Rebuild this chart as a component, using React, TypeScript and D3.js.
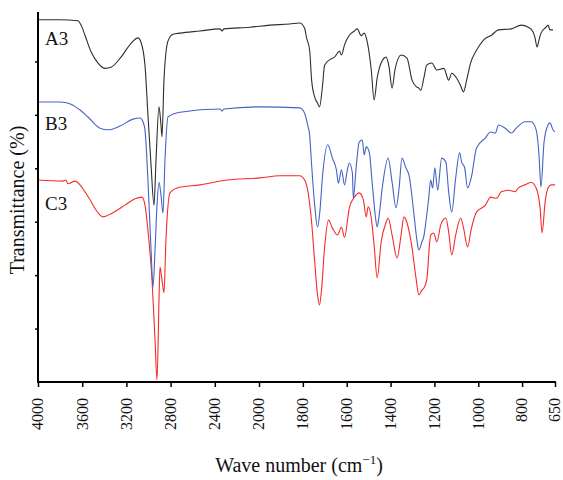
import React, { useEffect, useRef } from 'react';
import * as d3 from 'd3';

// FTIR spectra, wavenumber (cm-1) vs transmittance (arbitrary, offset traces)
const xTicks = [4000, 3600, 3200, 2800, 2400, 2000, 1800, 1600, 1400, 1200, 1000, 800, 650];
const yTicks = [10, 20, 30, 40, 50, 60];

const seriesA3: [number, number][] = [
  [4000, 67.8], [3801, 67.8], [3638, 67.6], [3611, 66.8], [3575, 64.9], [3520, 61.8], [3457, 59.7],
  [3394, 58.7], [3339, 58.9], [3249, 60.8], [3158, 63.4], [3095, 64.4], [3068, 63.6], [3032, 59.3],
  [3005, 50.0], [2977, 40.6], [2950, 33.1], [2932, 41.5], [2905, 51.5], [2887, 48.1], [2878, 45.9],
  [2860, 56.5], [2824, 63.8], [2778, 65.1], [2715, 65.3], [2534, 65.7], [2353, 66.1], [2335, 65.7],
  [2317, 66.1], [2081, 66.4], [1950, 66.8], [1860, 67.0], [1814, 67.2], [1792, 66.2], [1783, 64.4],
  [1769, 62.1], [1760, 56.5], [1746, 53.3], [1733, 52.2], [1724, 51.5], [1710, 55.6], [1701, 59.3],
  [1678, 60.3], [1656, 60.8], [1633, 61.9], [1624, 61.2], [1610, 63.1], [1588, 64.9], [1565, 65.7],
  [1552, 66.1], [1534, 64.8], [1520, 65.3], [1506, 63.6], [1488, 58.4], [1475, 52.8], [1461, 56.9],
  [1443, 59.7], [1420, 60.8], [1407, 59.0], [1393, 55.0], [1380, 58.4], [1352, 61.2], [1325, 60.6],
  [1302, 56.5], [1280, 55.2], [1271, 55.0], [1262, 54.6], [1248, 56.9], [1235, 59.3], [1212, 59.7],
  [1189, 58.4], [1157, 58.7], [1135, 56.5], [1121, 57.8], [1099, 56.9], [1080, 55.4], [1067, 54.3],
  [1053, 56.5], [1035, 59.7], [1008, 62.1], [976, 64.0], [940, 64.9], [908, 65.9], [849, 66.1],
  [804, 66.8], [772, 66.4], [750, 65.5], [741, 64.4], [732, 62.7], [723, 64.0], [714, 65.3],
  [691, 66.4], [682, 66.8], [673, 65.9], [659, 65.9],
];

const seriesB3: [number, number][] = [
  [4000, 52.4], [3801, 52.4], [3701, 52.0], [3620, 50.9], [3548, 49.6], [3439, 47.5], [3367, 47.2],
  [3258, 47.9], [3140, 49.2], [3077, 49.4], [3050, 48.7], [3032, 47.2], [3005, 37.8], [2977, 24.7],
  [2959, 17.8], [2941, 24.7], [2923, 33.1], [2905, 37.4], [2887, 35.0], [2869, 31.6], [2851, 41.5],
  [2824, 49.6], [2715, 50.5], [2353, 51.1], [2335, 50.7], [2317, 51.1], [1995, 51.5], [1814, 51.3],
  [1792, 50.3], [1778, 48.1], [1769, 46.2], [1760, 40.6], [1746, 33.1], [1733, 29.0], [1724, 31.2],
  [1710, 38.7], [1687, 44.4], [1665, 41.9], [1647, 39.7], [1638, 37.2], [1624, 39.7], [1610, 36.9],
  [1597, 39.7], [1588, 41.0], [1574, 39.1], [1570, 34.4], [1556, 40.6], [1543, 44.9], [1529, 45.3],
  [1520, 42.5], [1511, 44.0], [1497, 43.0], [1484, 37.4], [1470, 31.3], [1461, 29.0], [1452, 31.2],
  [1438, 36.3], [1411, 41.9], [1393, 37.4], [1375, 32.6], [1361, 36.3], [1348, 41.9], [1330, 40.1],
  [1316, 38.7], [1293, 31.3], [1280, 26.6], [1271, 24.7], [1257, 26.2], [1248, 27.3], [1239, 29.9],
  [1226, 34.4], [1217, 37.8], [1208, 36.3], [1198, 40.1], [1185, 35.9], [1167, 41.9], [1148, 41.2],
  [1135, 35.6], [1121, 31.8], [1103, 38.2], [1085, 42.9], [1076, 41.2], [1062, 40.1], [1049, 36.3],
  [1031, 38.4], [1008, 43.8], [967, 45.7], [944, 46.8], [922, 46.6], [908, 48.1], [877, 47.5],
  [849, 46.6], [827, 47.5], [786, 48.7], [759, 48.7], [736, 47.2], [723, 42.5], [714, 36.5],
  [700, 44.9], [682, 48.1], [673, 48.5], [659, 47.2], [650, 46.8],
];

const seriesC3: [number, number][] = [
  [4000, 37.8], [3774, 37.6], [3747, 37.8], [3729, 37.1], [3665, 37.6], [3620, 36.9], [3575, 35.6],
  [3529, 34.1], [3475, 32.2], [3412, 30.9], [3330, 31.6], [3213, 33.1], [3122, 34.3], [3059, 34.6],
  [3032, 33.1], [3005, 28.4], [2968, 19.1], [2941, 7.9], [2923, 0.4], [2905, 15.3], [2896, 21.5],
  [2878, 19.1], [2860, 16.7], [2842, 26.6], [2806, 35.4], [2742, 36.3], [2534, 36.9], [2290, 37.8],
  [1995, 38.2], [1905, 38.6], [1814, 38.6], [1792, 37.8], [1778, 35.9], [1760, 29.9], [1746, 22.5],
  [1733, 16.3], [1724, 14.4], [1715, 17.2], [1701, 25.1], [1683, 30.3], [1665, 28.8], [1642, 27.5],
  [1624, 29.0], [1610, 27.1], [1588, 32.6], [1565, 34.6], [1543, 35.4], [1524, 34.1], [1511, 30.9],
  [1502, 32.8], [1488, 30.7], [1475, 25.6], [1461, 19.5], [1443, 26.2], [1420, 29.9], [1411, 30.7],
  [1393, 27.5], [1370, 23.2], [1352, 27.5], [1339, 30.9], [1325, 29.8], [1302, 25.1], [1284, 19.5],
  [1271, 16.3], [1257, 17.2], [1248, 17.6], [1235, 19.1], [1217, 27.5], [1203, 27.9], [1189, 26.2],
  [1171, 29.4], [1148, 30.7], [1135, 28.1], [1121, 23.8], [1103, 27.5], [1080, 30.7], [1067, 28.8],
  [1049, 25.3], [1031, 28.8], [1008, 31.8], [967, 33.1], [944, 34.6], [917, 34.4], [895, 35.6],
  [863, 35.9], [831, 35.6], [818, 36.3], [786, 36.9], [759, 37.4], [736, 36.3], [718, 32.6],
  [709, 27.9], [695, 33.7], [682, 36.3], [668, 36.9], [650, 36.9],
];

const seriesNames = ['A3', 'B3', 'C3'];
const seriesColors = ['#2e2e2e', '#4463c4', '#f52b2b'];
const seriesData = [seriesA3, seriesB3, seriesC3];
// where each trace name sits: [wavenumber, transmittance]
const labelAnchors: [number, number][] = [[3937, 63.1], [3937, 47.2], [3937, 32.2]];

export default function App() {
  const ref = useRef<SVGSVGElement>(null);
  const width = 563;
  const height = 480;
  const margin = { top: 12, left: 38, bottom: 98, right: 8 };

  useEffect(() => {
    const svg = d3.select(ref.current);
    svg.selectAll('*').remove();

    const plotBottom = height - margin.bottom;
    // the high wavenumber half is compressed (400 per tick vs 200 per tick)
    const x = d3.scaleLinear()
      .domain([4000, 2000, 650])
      .range([margin.left, 259, width - margin.right]);
    const y = d3.scaleLinear()
      .domain([0, 70])
      .range([plotBottom, 8]);

    const font = '"Liberation Serif", "Times New Roman", serif';

    const line = d3.line<[number, number]>()
      .x(d => x(d[0]))
      .y(d => y(d[1]))
      .curve(d3.curveMonotoneX);

    // draw C first so A sits on top
    for (let i = seriesData.length - 1; i >= 0; i--) {
      const sorted = seriesData[i].slice().sort((p, q) => p[0] - q[0]);
      svg.append('path')
        .datum(sorted)
        .attr('d', line)
        .attr('fill', 'none')
        .attr('stroke', seriesColors[i])
        .attr('stroke-width', 1.1)
        .attr('stroke-linejoin', 'round');
    }

    seriesNames.forEach((name, i) => {
      svg.append('text')
        .attr('x', x(labelAnchors[i][0]))
        .attr('y', y(labelAnchors[i][1]))
        .attr('font-family', font)
        .attr('font-size', 19)
        .attr('fill', '#111')
        .text(name);
    });

    // x axis
    const xAxis = svg.append('g')
      .attr('transform', `translate(0,${plotBottom})`)
      .call(d3.axisBottom(x).tickValues(xTicks).tickSize(5).tickSizeOuter(0).tickFormat(d3.format('d')));
    xAxis.select('.domain').attr('stroke', '#000').attr('stroke-width', 2)
      .attr('d', `M${margin.left - 1},0H${width - margin.right + 1}`);
    xAxis.selectAll('.tick line').attr('stroke', '#000').attr('stroke-width', 1.5);
    xAxis.selectAll('.tick text')
      .attr('font-family', font)
      .attr('font-size', 16)
      .attr('fill', '#111')
      .attr('text-anchor', 'end')
      .attr('transform', 'rotate(-90)')
      .attr('x', -16)
      .attr('y', 0)
      .attr('dy', '0.3em');

    // y axis, ticks only
    const yAxis = svg.append('g')
      .attr('transform', `translate(${margin.left},0)`)
      .call(d3.axisLeft(y).tickValues(yTicks).tickSize(3).tickSizeOuter(0).tickFormat(() => ''));
    yAxis.select('.domain').attr('stroke', '#000').attr('stroke-width', 2)
      .attr('d', `M0,${margin.top}V${plotBottom + 1}`);
    yAxis.selectAll('.tick line').attr('stroke', '#000').attr('stroke-width', 1.5);

    svg.append('text')
      .attr('transform', `translate(24,${(margin.top + plotBottom) / 2 + 3}) rotate(-90)`)
      .attr('text-anchor', 'middle')
      .attr('font-family', font)
      .attr('font-size', 20)
      .attr('fill', '#111')
      .text('Transmittance (%)');

    const title = svg.append('text')
      .attr('x', 299)
      .attr('y', 472)
      .attr('text-anchor', 'middle')
      .attr('font-family', font)
      .attr('font-size', 20)
      .attr('fill', '#111');
    title.append('tspan').text('Wave number (cm');
    title.append('tspan').attr('dy', -8).attr('font-size', 13).text('\u22121');
    title.append('tspan').attr('dy', 8).text(')');
  }, []);

  return (
    <svg ref={ref} width={width} height={height}
      style={{ position: 'absolute', left: 0, top: 0, background: '#fff' }} />
  );
}
